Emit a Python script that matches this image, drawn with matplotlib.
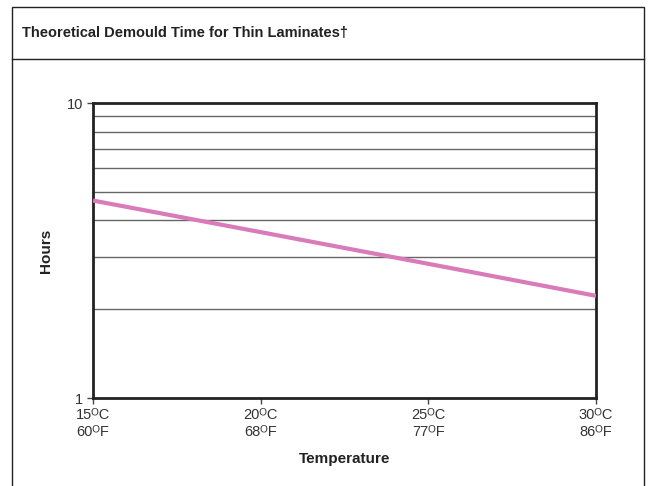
import matplotlib
matplotlib.use("Agg")
import matplotlib.pyplot as plt
from matplotlib.patches import Rectangle
from matplotlib.lines import Line2D

plt.rcParams['font.family'] = ['Liberation Sans', 'DejaVu Sans']

temps_c = [15, 20, 25, 30]
temps_f = [60, 68, 77, 86]
hours = [4.67, 3.65, 2.85, 2.22]
tick_labels = [f"{c}\u1d3cC\n{f}\u1d3cF" for c, f in zip(temps_c, temps_f)]
title = "Theoretical Demould Time for Thin Laminates\u2020"

W, H = 653, 486
fig = plt.figure(figsize=(W/100, H/100), dpi=100)

# outer frame
fig.patches.append(Rectangle((12/W, -0.05), (644-12)/W, 1.05 - 7/H, transform=fig.transFigure,
                             fill=False, edgecolor='#222222', linewidth=1.0))
fig.lines.append(Line2D([12/W, 644/W], [1-59/H, 1-59/H], transform=fig.transFigure,
                        color='#222222', linewidth=1.0))
fig.text(22/W, 1-33/H, title, fontsize=10.5, fontweight='bold', color='#222222', va='center', ha='left')

ax = fig.add_axes([93/W, 1-398/H, (596-93)/W, (398-103)/H])
ax.set_yscale('log')
ax.set_ylim(1, 10)
ax.set_xlim(15, 30)
ax.plot(temps_c, hours, color='#d97bb8', linewidth=3.0, solid_capstyle='butt', zorder=3)

ax.set_yticks([1, 10])
ax.set_yticklabels(['1', '10'])
ax.set_yticks([2, 3, 4, 5, 6, 7, 8, 9], minor=True)
ax.yaxis.set_minor_formatter(matplotlib.ticker.NullFormatter())
ax.grid(True, which='minor', axis='y', color='#666666', linewidth=1.0)
ax.tick_params(axis='y', which='minor', length=0)
ax.tick_params(axis='y', which='major', length=4, width=1, color='#444444', labelsize=10.5, labelcolor='#333333', pad=3)
ax.set_xticks(temps_c)
ax.set_xticklabels(tick_labels, linespacing=1.3)
ax.tick_params(axis='x', length=4, width=1, color='#444444', labelsize=10.5, labelcolor='#333333', pad=3)

for s in ax.spines.values():
    s.set_linewidth(2.0)
    s.set_color('#222222')

ax.set_xlabel('Temperature', fontsize=11, fontweight='bold', color='#222222', labelpad=9)
ax.set_ylabel('Hours', fontsize=11, fontweight='bold', color='#222222', labelpad=10)

fig.savefig('out.png', dpi=100)
